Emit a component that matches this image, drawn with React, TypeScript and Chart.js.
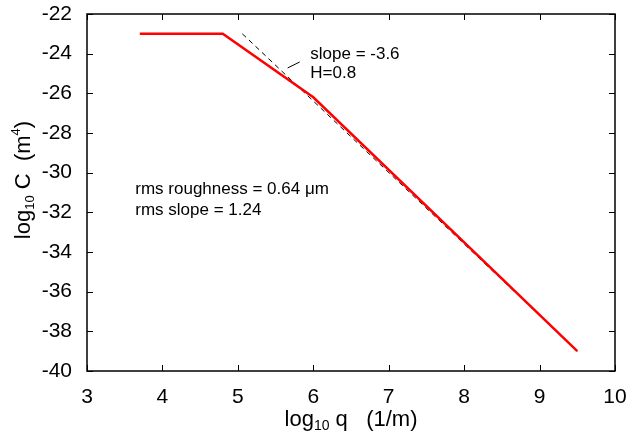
import React, { useEffect, useRef } from 'react';
import { Chart, registerables } from 'chart.js';

Chart.register(...registerables);

// Data (log10 q, log10 C)
const redQ = [3.7, 4.8, 6.0, 9.5];
const redC = [-23, -23, -26.2, -39];
const fitQ = [5.06, 9.5];
const fitC = [-23, -39];
const pointerQ = [5.66, 5.82];
const pointerC = [-24.72, -24.42];
const xTicks = [3, 4, 5, 6, 7, 8, 9, 10];
const yTicks = [-40, -38, -36, -34, -32, -30, -28, -26, -24, -22];

const slopeLabel = ['slope = -3.6', 'H=0.8'];
const slopeLabelPos = { q: 5.96, c: [-24.27, -25.23] };
const rmsLabel = ['rms roughness = 0.64 \u03bcm', 'rms slope = 1.24'];
const rmsLabelPos = { q: 3.64, c: [-31.08, -32.14] };

const FONT = '"Liberation Sans", Arial, Helvetica, sans-serif';

type Part = { t: string; size: number; dy: number };

function richWidth(ctx: CanvasRenderingContext2D, parts: Part[]) {
  let w = 0;
  for (const p of parts) {
    ctx.font = `${p.size}px ${FONT}`;
    w += ctx.measureText(p.t).width;
  }
  return w;
}

function drawRich(ctx: CanvasRenderingContext2D, parts: Part[], x: number, y: number) {
  let cx = x;
  for (const p of parts) {
    ctx.font = `${p.size}px ${FONT}`;
    ctx.fillText(p.t, cx, y + p.dy);
    cx += ctx.measureText(p.t).width;
  }
}

const decoPlugin = {
  id: 'deco',
  afterDraw(chart: any) {
    const ctx: CanvasRenderingContext2D = chart.ctx;
    const { left, right, top, bottom } = chart.chartArea;
    const xs = chart.scales.x;
    const ys = chart.scales.y;
    ctx.save();
    ctx.strokeStyle = '#000';
    ctx.lineWidth = 1.5;
    ctx.strokeRect(left, top, right - left, bottom - top);
    const tl = 6;
    ctx.lineWidth = 1;
    ctx.beginPath();
    for (const v of xTicks) {
      const px = Math.round(xs.getPixelForValue(v)) + 0.5;
      ctx.moveTo(px, bottom);
      ctx.lineTo(px, bottom - tl);
      ctx.moveTo(px, top);
      ctx.lineTo(px, top + tl);
    }
    for (const v of yTicks) {
      const py = Math.round(ys.getPixelForValue(v)) + 0.5;
      ctx.moveTo(left, py);
      ctx.lineTo(left + tl, py);
      ctx.moveTo(right, py);
      ctx.lineTo(right - tl, py);
    }
    ctx.stroke();

    ctx.fillStyle = '#000';
    ctx.textBaseline = 'alphabetic';
    ctx.textAlign = 'left';
    // annotations
    ctx.font = `17px ${FONT}`;
    slopeLabel.forEach((s, i) => {
      ctx.fillText(s, xs.getPixelForValue(slopeLabelPos.q), ys.getPixelForValue(slopeLabelPos.c[i]));
    });
    rmsLabel.forEach((s, i) => {
      ctx.fillText(s, xs.getPixelForValue(rmsLabelPos.q), ys.getPixelForValue(rmsLabelPos.c[i]));
    });

    // x axis title
    const xParts: Part[] = [
      { t: 'log', size: 22, dy: 0 },
      { t: '10', size: 14, dy: 4 },
      { t: ' q   (1/m)', size: 22, dy: 0 },
    ];
    const xw = richWidth(ctx, xParts);
    const xc = (left + right) / 2;
    drawRich(ctx, xParts, xc - xw / 2, 426);

    // y axis title
    const yParts: Part[] = [
      { t: 'log', size: 22, dy: 0 },
      { t: '10', size: 13, dy: 4 },
      { t: ' C  (m', size: 22, dy: 0 },
      { t: '4', size: 13, dy: -10 },
      { t: ')', size: 22, dy: 0 },
    ];
    const yw = richWidth(ctx, yParts);
    ctx.translate(30, 180);
    ctx.rotate(-Math.PI / 2);
    drawRich(ctx, yParts, -yw / 2, 0);
    ctx.restore();
  },
};

export default function App() {
  const ref = useRef<HTMLCanvasElement | null>(null);
  useEffect(() => {
    document.body.style.margin = '0';
    if (!ref.current) return;
    const pts = (xs: number[], ys: number[]) => xs.map((x, i) => ({ x, y: ys[i] }));
    const chart = new Chart(ref.current, {
      type: 'line',
      data: {
        datasets: [
          {
            data: pts(redQ, redC),
            borderColor: 'rgb(255,0,0)',
            borderWidth: 2.5,
            pointRadius: 0,
            tension: 0,
          },
          {
            data: pts(fitQ, fitC),
            borderColor: '#000',
            borderWidth: 1,
            borderDash: [5, 4],
            pointRadius: 0,
            tension: 0,
          },
          {
            data: pts(pointerQ, pointerC),
            borderColor: '#000',
            borderWidth: 1,
            pointRadius: 0,
            tension: 0,
          },
        ],
      },
      options: {
        animation: false,
        responsive: false,
        devicePixelRatio: 1,
        layout: { padding: { left: 0, top: 14, right: 18, bottom: 0 } },
        plugins: { legend: { display: false }, tooltip: { enabled: false } },
        scales: {
          x: {
            type: 'linear',
            min: 3,
            max: 10,
            afterBuildTicks: (s: any) => { s.ticks = xTicks.map((v) => ({ value: v })); },
            afterFit: (s: any) => {
              s.height = 63;
              s.paddingLeft = 0; s.paddingRight = 0; s.paddingTop = 0; s.paddingBottom = 0;
            },
            grid: { display: false, drawTicks: false },
            border: { display: false },
            ticks: { color: '#000', padding: 14, font: { family: FONT, size: 21 }, maxRotation: 0 },
          },
          y: {
            type: 'linear',
            min: -40,
            max: -22,
            afterBuildTicks: (s: any) => { s.ticks = yTicks.map((v) => ({ value: v })); },
            afterFit: (s: any) => {
              s.width = 87;
              s.paddingLeft = 0; s.paddingRight = 0; s.paddingTop = 0; s.paddingBottom = 0;
            },
            grid: { display: false, drawTicks: false },
            border: { display: false },
            ticks: { color: '#000', padding: 15, font: { family: FONT, size: 21 } },
          },
        },
      },
      plugins: [decoPlugin],
    } as any);
    return () => chart.destroy();
  }, []);
  return <canvas ref={ref} width={633} height={434} style={{ display: 'block' }} />;
}
